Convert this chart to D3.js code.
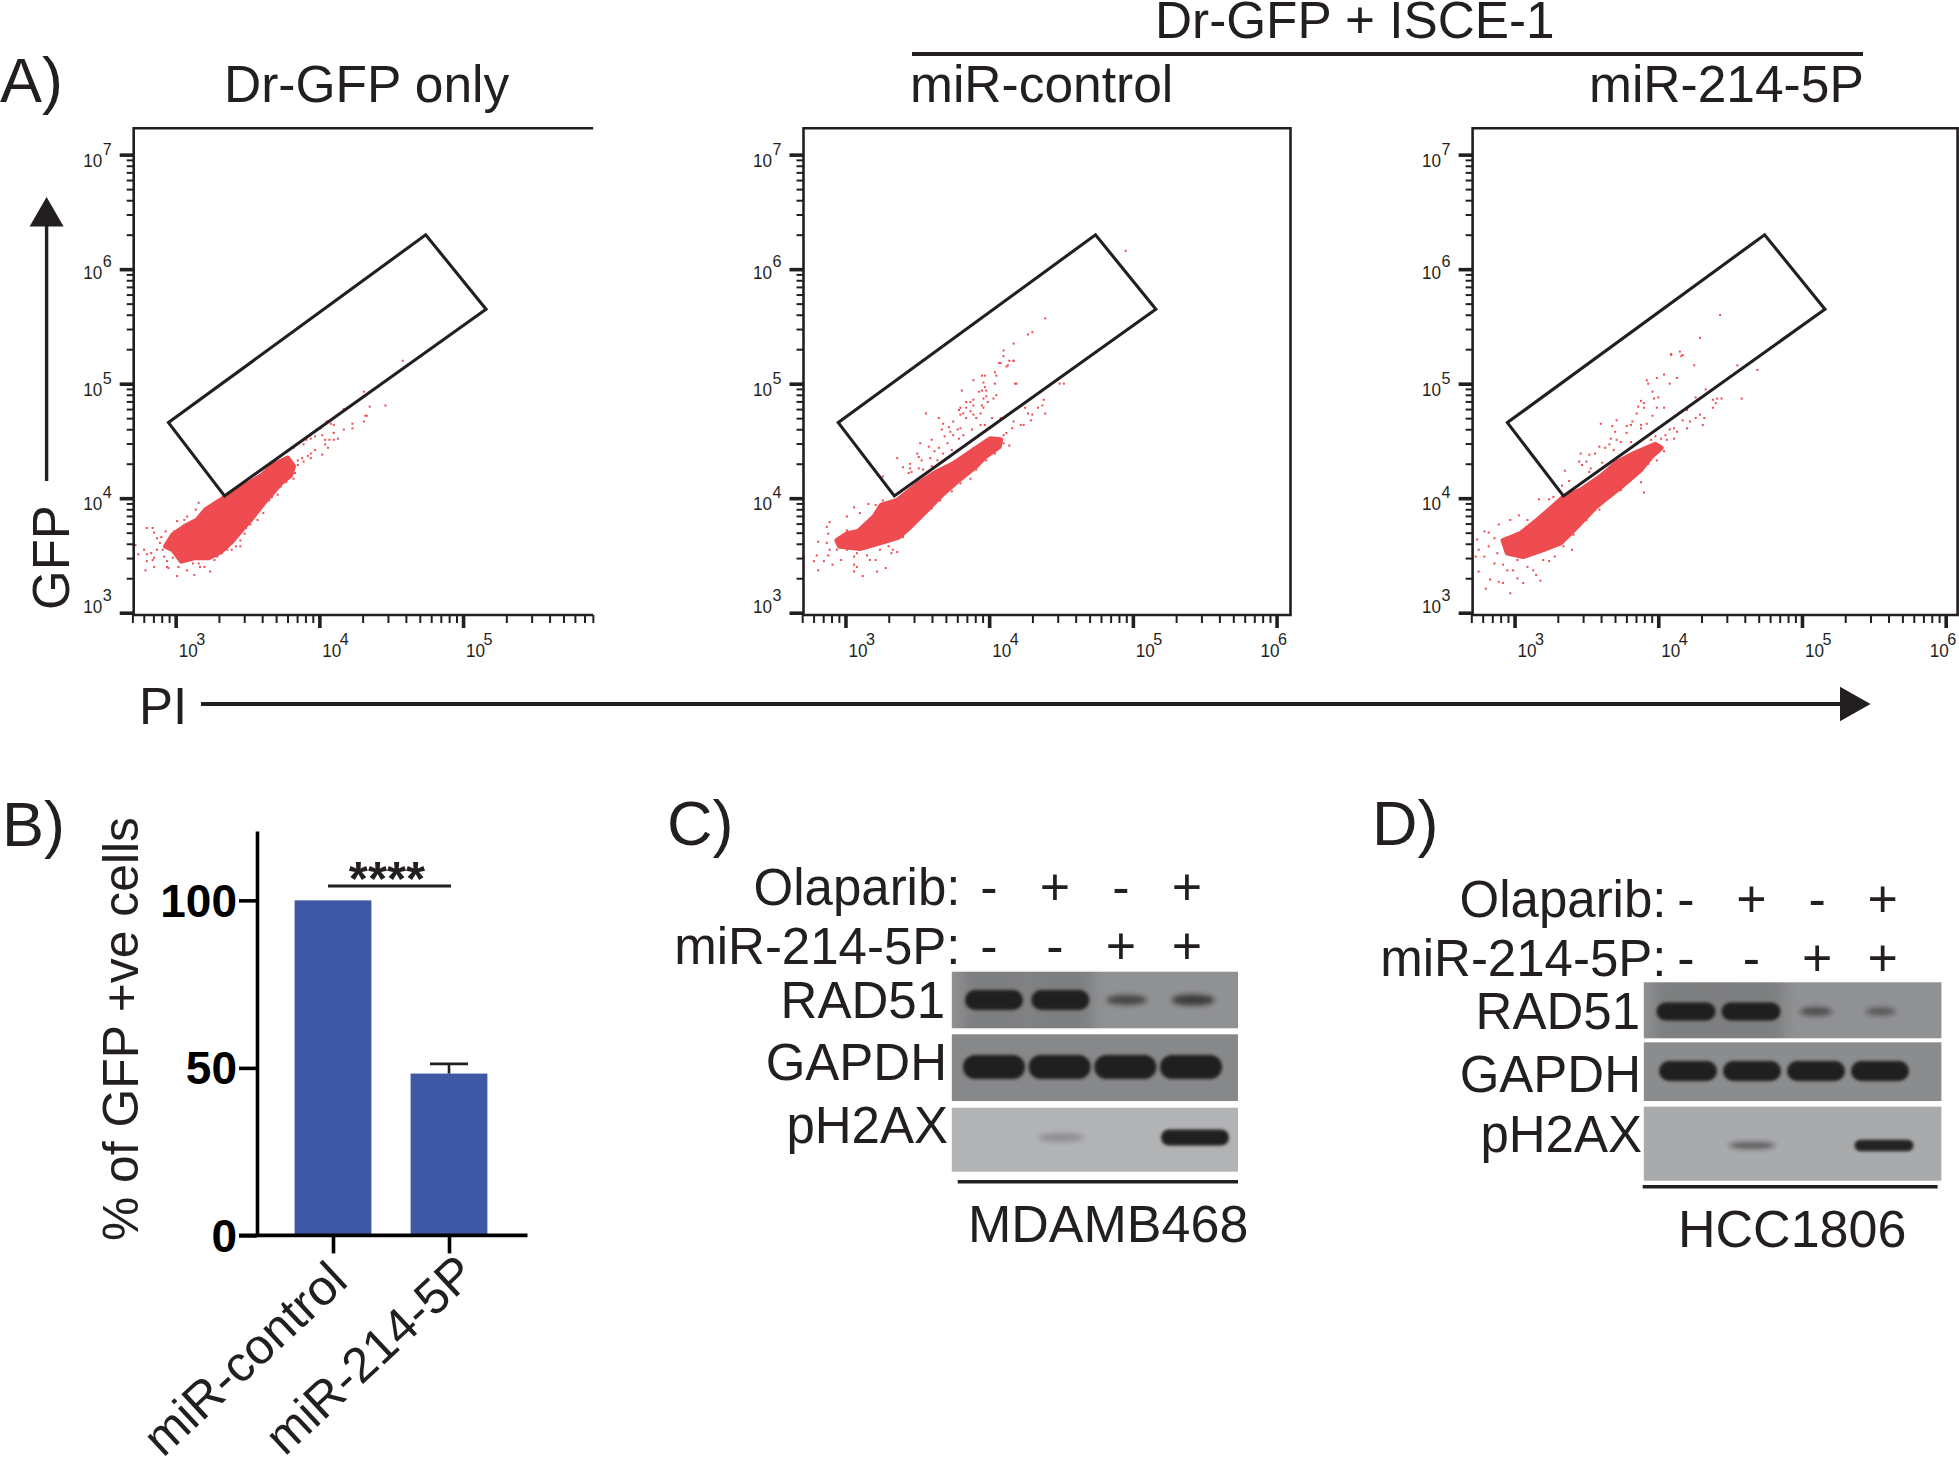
<!DOCTYPE html>
<html><head><meta charset="utf-8">
<script src="https://cdn.jsdelivr.net/npm/d3@7/dist/d3.min.js"></script>
<style>
html,body{margin:0;padding:0;background:#fff}
svg{display:block}
text{font-family:"Liberation Sans",Arial,sans-serif;fill:#231f20}
</style></head><body>
<svg id="c" width="1959" height="1472"></svg>
<script>
// ---------- DATA ----------
// Flow panels: values are log10(PI), log10(GFP)
const gateCorners = [[2.95,4.66],[4.74,6.30],[5.16,5.65],[3.34,4.02]];
const denseDrOnly = [[2.93,3.58],[2.98,3.68],[3.06,3.75],[3.15,3.81],[3.21,3.90],[3.31,3.98],[3.41,4.07],[3.51,4.13],[3.60,4.20],[3.68,4.29],[3.78,4.35],[3.82,4.28],[3.80,4.20],[3.73,4.13],[3.67,4.04],[3.62,3.97],[3.52,3.81],[3.45,3.71],[3.39,3.62],[3.31,3.53],[3.23,3.48],[3.13,3.48],[3.04,3.45],[2.98,3.55]];
const sparseDrOnly = [[4.58,5.20],[4.31,4.93],[4.20,4.79],[4.17,4.78],[4.35,4.80],[4.46,4.81],[4.32,4.72],[4.33,4.72],[4.31,4.67],[4.23,4.65],[4.23,4.61],[4.17,4.60],[4.10,4.64],[4.08,4.65],[4.05,4.67],[4.01,4.61],[3.98,4.60],[4.10,4.57],[4.07,4.51],[4.13,4.52],[4.10,4.51],[4.04,4.51],[4.02,4.55],[3.97,4.54],[3.94,4.52],[3.91,4.51],[3.89,4.47],[3.82,4.44],[4.04,4.47],[4.06,4.44],[4.02,4.38],[3.97,4.42],[3.94,4.39],[3.92,4.37],[3.88,4.35],[3.85,4.33],[3.94,4.35],[3.89,4.32],[3.85,4.29],[3.83,4.22],[3.82,4.17],[3.77,4.14],[3.73,4.10],[3.71,4.03],[3.67,4.01],[3.65,3.98],[3.61,3.87],[3.57,3.81],[3.52,3.77],[3.49,3.74],[3.48,3.69],[3.45,3.63],[3.45,3.58],[3.42,3.58],[3.39,3.55],[3.36,3.55],[3.32,3.52],[3.29,3.49],[3.27,3.46],[3.24,3.36],[3.20,3.40],[3.17,3.40],[3.16,3.43],[3.13,3.33],[3.01,3.32],[2.95,3.39],[2.94,3.40],[2.85,3.40],[2.79,3.37],[2.80,3.45],[2.84,3.46],[2.85,3.48],[2.83,3.52],[2.80,3.51],[2.78,3.55],[2.74,3.51],[2.72,3.59],[2.80,3.74],[2.84,3.74],[2.85,3.70],[2.90,3.66],[2.93,3.71],[2.87,3.65],[2.89,3.61],[2.91,3.55],[2.87,3.55],[2.92,3.49],[2.94,3.45],[2.98,3.48],[3.02,3.40],[3.08,3.37],[3.12,3.43],[3.09,3.46],[3.01,3.80],[3.06,3.81],[3.08,3.84],[3.14,3.90],[3.16,3.96],[3.19,3.85],[3.27,3.96],[3.09,3.72],[2.99,3.71],[3.02,3.72]];
const denseControl = [[2.94,3.63],[3.01,3.69],[3.09,3.71],[3.20,3.84],[3.25,3.94],[3.36,3.98],[3.51,4.13],[3.62,4.22],[3.75,4.30],[3.89,4.42],[4.01,4.52],[4.08,4.51],[4.07,4.45],[3.97,4.36],[3.91,4.28],[3.80,4.17],[3.68,4.04],[3.57,3.90],[3.45,3.75],[3.37,3.66],[3.24,3.61],[3.10,3.56],[2.96,3.58]];
const sparseControl = [[4.95,6.16],[4.39,5.57],[4.27,5.43],[4.30,5.45],[4.17,5.35],[4.07,5.18],[4.13,5.16],[4.17,5.20],[4.18,5.00],[4.10,5.29],[4.10,5.24],[4.08,5.18],[4.12,5.15],[4.14,5.20],[4.17,5.20],[3.97,5.07],[3.95,5.07],[3.89,5.03],[4.04,5.10],[4.05,5.07],[3.96,5.01],[4.04,5.00],[4.19,5.00],[3.97,4.97],[3.98,4.94],[3.95,4.94],[3.93,4.93],[3.81,4.94],[4.05,4.90],[4.03,4.87],[3.98,4.89],[3.96,4.87],[3.89,4.86],[3.87,4.84],[3.84,4.84],[3.80,4.79],[3.79,4.77],[3.84,4.79],[3.89,4.81],[3.95,4.81],[3.99,4.84],[3.96,4.79],[3.87,4.76],[3.82,4.74],[3.80,4.73],[3.84,4.70],[3.89,4.73],[3.94,4.74],[3.91,4.70],[3.97,4.64],[3.94,4.64],[3.88,4.60],[3.82,4.55],[3.80,4.61],[3.78,4.60],[3.75,4.67],[3.68,4.65],[3.65,4.70],[3.56,4.74],[3.67,4.60],[3.72,4.62],[3.73,4.58],[3.69,4.54],[3.75,4.55],[3.79,4.52],[3.60,4.51],[3.52,4.48],[3.71,4.48],[3.65,4.44],[3.62,4.41],[3.68,4.39],[3.74,4.42],[3.58,4.45],[3.50,4.39],[3.51,4.36],[3.53,4.33],[3.36,4.35],[3.45,4.30],[3.45,4.26],[3.40,4.27],[3.51,4.26],[3.54,4.25],[3.44,4.22],[3.46,4.23],[3.59,4.35],[3.64,4.33],[3.60,4.28],[3.26,4.19],[4.08,4.70],[4.02,4.70],[4.25,4.79],[4.38,4.86],[4.37,4.81],[4.34,4.79],[4.39,4.74],[4.30,4.73],[4.29,4.68],[4.27,4.74],[4.52,5.00],[4.49,5.00],[4.24,4.64],[4.22,4.64],[4.17,4.67],[4.16,4.61],[4.12,4.57],[4.10,4.55],[4.14,4.46],[4.10,4.48],[4.04,4.39],[3.98,4.33],[3.91,4.25],[3.87,4.17],[3.80,4.13],[3.74,4.06],[3.66,3.98],[3.60,3.91],[3.54,3.87],[3.49,3.80],[3.45,3.77],[3.40,3.66],[3.36,3.53],[3.33,3.55],[3.28,3.39],[3.22,3.36],[3.21,3.46],[3.17,3.46],[3.12,3.32],[3.08,3.40],[3.06,3.36],[3.06,3.42],[2.97,3.46],[2.91,3.42],[2.85,3.45],[2.81,3.37],[2.78,3.45],[2.80,3.50],[2.71,3.49],[2.81,3.62],[2.87,3.61],[2.89,3.55],[2.88,3.50],[2.88,3.69],[2.89,3.79],[2.87,3.75],[3.01,3.84],[3.06,3.92],[3.10,3.87],[3.16,3.95],[3.21,3.94],[3.26,3.98],[3.01,3.72],[2.96,3.66],[2.94,3.55],[3.01,3.55],[3.08,3.52],[3.15,3.50],[3.24,3.55],[3.30,3.58],[3.32,3.52],[3.06,3.49]];
const dense214 = [[2.92,3.63],[3.04,3.69],[3.16,3.81],[3.27,3.93],[3.34,4.01],[3.46,4.07],[3.60,4.19],[3.71,4.31],[3.83,4.39],[3.98,4.47],[4.02,4.44],[3.95,4.36],[3.88,4.25],[3.74,4.10],[3.57,3.93],[3.41,3.72],[3.32,3.61],[3.20,3.55],[3.06,3.49],[2.95,3.52]];
const sparse214 = [[4.43,5.60],[4.29,5.40],[4.09,5.26],[4.09,5.25],[4.15,5.28],[4.17,5.25],[4.16,5.24],[4.25,5.16],[4.55,5.16],[4.69,5.12],[4.04,5.08],[3.99,5.05],[3.92,5.03],[3.93,5.00],[4.13,5.05],[4.08,5.00],[3.96,4.93],[4.33,4.95],[4.26,4.88],[4.00,4.88],[3.97,4.87],[3.88,4.85],[3.90,4.83],[3.86,4.80],[3.90,4.79],[3.99,4.79],[4.04,4.79],[4.38,4.86],[4.41,4.87],[4.44,4.87],[4.40,4.83],[4.38,4.79],[4.58,4.87],[4.20,4.77],[3.85,4.74],[3.96,4.72],[3.71,4.68],[3.60,4.65],[3.82,4.67],[3.88,4.64],[3.88,4.61],[3.92,4.65],[3.78,4.63],[3.81,4.64],[3.68,4.63],[3.70,4.58],[3.78,4.57],[3.67,4.52],[3.71,4.51],[3.74,4.49],[3.81,4.49],[3.66,4.47],[3.59,4.45],[3.63,4.44],[3.56,4.39],[3.69,4.42],[3.46,4.39],[3.52,4.38],[3.61,4.31],[3.45,4.32],[3.47,4.29],[3.50,4.32],[3.52,4.23],[3.35,4.24],[3.38,4.15],[3.33,4.11],[3.53,4.26],[4.29,4.73],[4.32,4.70],[4.26,4.70],[4.31,4.64],[4.22,4.67],[4.20,4.61],[4.17,4.68],[4.13,4.58],[4.11,4.61],[4.08,4.60],[4.05,4.55],[4.11,4.52],[4.06,4.51],[4.02,4.52],[3.98,4.54],[3.95,4.51],[4.04,4.41],[3.99,4.33],[3.93,4.30],[3.88,4.14],[3.90,4.05],[3.81,4.16],[3.74,4.07],[3.64,4.01],[3.59,3.90],[3.50,3.81],[3.41,3.68],[3.40,3.55],[3.34,3.58],[3.28,3.49],[3.20,3.46],[3.24,3.45],[3.18,3.28],[3.15,3.33],[3.06,3.26],[3.02,3.30],[2.92,3.26],[2.89,3.27],[2.83,3.29],[2.80,3.21],[2.75,3.36],[2.73,3.49],[2.74,3.64],[2.79,3.71],[2.82,3.70],[2.89,3.77],[2.97,3.81],[3.03,3.85],[3.09,3.81],[3.17,3.99],[3.24,3.99],[3.27,4.01],[2.99,3.37],[3.09,3.40],[3.13,3.37],[2.95,3.37],[2.86,3.43],[2.79,3.49],[2.82,3.58],[2.88,3.52],[2.75,3.55],[2.86,3.65],[2.92,3.42],[3.02,3.46],[2.97,3.17]];
const flowMajor = [1e3,1e4,1e5,1e6];
const flowMajorY = [1e3,1e4,1e5,1e6,1e7];

// Bar panel
const barCategories = ["miR-control","miR-214-5P"];
const barValues = [100,48.3];
const barErrors = [0,2.9];
const barTicks = [0,50,100];

// Western blots: band strength in each lane (0 = no band)
const laneOlaparib = ["-","+","-","+"];
const laneMir = ["-","-","+","+"];
const blotProteins = ["RAD51","GAPDH","pH2AX"];
const rad51C = [1,1,.42,.48], gapdhC = [1,1,1,1], ph2axC = [0,.16,0,1];
const rad51D = [1,1,.38,.32], gapdhD = [1,1,1,1], ph2axD = [0,.36,0,.95];

// ---------- DRAW ----------
const svg = d3.select("#c");
const ink = "#231f20";
const defs = svg.append("defs");
const mk=(id,sd)=>defs.append("filter").attr("id",id).attr("x","-40%").attr("y","-120%").attr("width","180%").attr("height","340%")
  .append("feGaussianBlur").attr("stdDeviation",sd);
mk("b",1.4); mk("f",2.6); mk("h",7);

function txt(t,x,y,size,opt={}){
  return svg.append("text").attr("x",x).attr("y",y).attr("font-size",size)
    .attr("text-anchor",opt.anchor||"start").attr("font-weight",opt.weight||"normal").text(t);
}
function line(x1,y1,x2,y2,w){
  svg.append("line").attr("x1",x1).attr("y1",y1).attr("x2",x2).attr("y2",y2)
    .attr("stroke",ink).attr("stroke-width",w);
}

// Titles
txt("A)",0,102,63);
txt("Dr-GFP only",224,102,51.5);
txt("Dr-GFP + ISCE-1",1155,38,51.3);
line(912,54,1863,54,4);
txt("miR-control",910,102,51.5);
txt("miR-214-5P",1589,102,51.5);

// Flow panels
const flowX = d3.scaleLog().domain([Math.pow(10,2.708),Math.pow(10,6.083)]).range([0,485]);
const flowY = d3.scaleLog().domain([Math.pow(10,2.98),Math.pow(10,7.23)]).range([615,128.3]);
const minors = (lo,hi)=>{const o=[];for(let d=lo;d<hi;d++)for(let k=2;k<10;k++)o.push(k*Math.pow(10,d));return o;};

function flowPanel(left,width,dense,sparse,closed){
  const g = svg.append("g").attr("transform",`translate(${left},0)`);
  const px = v=>flowX(Math.pow(10,v)), py = v=>flowY(Math.pow(10,v));
  g.append("path").datum(dense)
    .attr("d",d3.line().x(d=>px(d[0])).y(d=>py(d[1])).curve(d3.curveLinearClosed))
    .attr("fill","#ee4c50").attr("stroke","#ee4c50").attr("stroke-width",5).attr("stroke-linejoin","round");
  g.selectAll("rect.ev").data(sparse).join("rect").attr("class","ev")
    .attr("x",d=>px(d[0])-1).attr("y",d=>py(d[1])-1).attr("width",2).attr("height",2)
    .attr("fill","#ee4c50");
  g.append("path").datum(gateCorners)
    .attr("d",d3.line().x(d=>px(d[0])).y(d=>py(d[1])).curve(d3.curveLinearClosed))
    .attr("fill","none").attr("stroke",ink).attr("stroke-width",3.1).attr("stroke-linejoin","miter");
  const inRange = v=>flowX(v)<=width;
  const bottom = (vals,size,sw)=>{
    const a=g.append("g").attr("transform","translate(0,615)")
      .call(d3.axisBottom(flowX).tickValues(vals.filter(inRange)).tickSize(size).tickFormat("").tickSizeOuter(0));
    a.select(".domain").remove();
    a.selectAll("line").attr("stroke",ink).attr("stroke-width",sw);
  };
  bottom(minors(2,6).filter(v=>v>=500),8,2);
  bottom(flowMajor,13,3.6);
  const leftAx = (vals,size,sw)=>{
    const a=g.append("g").call(d3.axisLeft(flowY).tickValues(vals).tickSize(size).tickFormat("").tickSizeOuter(0));
    a.select(".domain").remove();
    a.selectAll("line").attr("stroke",ink).attr("stroke-width",sw);
  };
  leftAx(minors(3,7),7,2);
  leftAx(flowMajorY,14,3.6);
  g.append("path").attr("fill","none").attr("stroke",ink).attr("stroke-width",2.6)
    .attr("d",closed?`M0,128.3H${width}V615H0Z`:`M${width},128.3H0V615H${width}`);
  const lab=(x,y,supX,supY,e)=>{
    g.append("text").attr("transform",`translate(${x},${y}) scale(.9,1)`).attr("font-size",19).text("10");
    g.append("text").attr("transform",`translate(${supX},${supY}) scale(.95,1)`).attr("font-size",17).text(e);
  };
  flowMajor.filter(inRange).forEach((v,i)=>{
    const e=3+i, x=flowX(v), dx=(e===6)?-16:3;
    lab(x+dx,656.7,x+dx+17.5,645,e);
  });
  flowMajorY.forEach((v,i)=>{
    const e=3+i, y=flowY(v), dy=(e===3)?0:(e===6?10:12);
    lab(-50.5,y+dy,-31,y+dy-12,e);
  });
}
flowPanel(133.7,459.5,denseDrOnly,sparseDrOnly,false);
flowPanel(803.5,487,denseControl,sparseControl,true);
flowPanel(1472.6,485,dense214,sparse214,true);

// GFP / PI arrows
line(46.6,481,46.6,222,3.4);
svg.append("path").attr("d","M46.6,197L29.6,226.5H63.6Z").attr("fill",ink);
svg.append("text").attr("transform","translate(69,610) rotate(-90)").attr("font-size",51).text("GFP");
txt("PI",139,724,51);
line(201,704,1845,704,4);
svg.append("path").attr("d","M1870.6,704L1840,686.7V721.3Z").attr("fill",ink);

// Panel B
txt("B)",2,846,63);
const barY = d3.scaleLinear().domain([0,120.7]).range([1235.4,831]);
const barX = d3.scalePoint().domain(barCategories).range([333,449]);
const barW = 76.8;
svg.selectAll("rect.bar").data(barCategories).join("rect").attr("class","bar")
  .attr("x",d=>barX(d)-barW/2).attr("width",barW)
  .attr("y",(d,i)=>barY(barValues[i])).attr("height",(d,i)=>barY(0)-barY(barValues[i]))
  .attr("fill","#3f58a6");
barCategories.forEach((c,i)=>{
  if(!barErrors[i])return;
  const x=barX(c), top=barY(barValues[i]+barErrors[i]);
  line(x,barY(barValues[i]),x,top,2.6);
  line(x-19,top,x+19,top,2.6);
});
const yAx = svg.append("g").attr("transform","translate(257,0)")
  .call(d3.axisLeft(barY).tickValues(barTicks).tickSize(18).tickFormat("").tickSizeOuter(0));
yAx.selectAll("line").attr("stroke","#000").attr("stroke-width",3.6);
yAx.select(".domain").attr("stroke","#000").attr("stroke-width",3.6);
barTicks.forEach(v=>{
  txt(v,237,barY(v)+16.5,46,{anchor:"end",weight:"bold"}).style("fill","#000");
});
const xAx = svg.append("g").attr("transform",`translate(0,${barY(0)})`)
  .call(d3.axisBottom(barX).tickSize(18).tickFormat("").tickSizeOuter(0));
xAx.selectAll("line").attr("stroke","#000").attr("stroke-width",3.6);
xAx.select(".domain").attr("d","M239,0H527.5").attr("stroke","#000").attr("stroke-width",3.6);
svg.append("text").attr("transform","translate(137.5,1241) rotate(-90)").attr("font-size",49.8).text("% of GFP +ve cells");
const barLabelShift = [17,29];
const barLabelY = [1284,1277];
barCategories.forEach((c,i)=>{
  svg.append("text").attr("transform",`translate(${barX(c)+barLabelShift[i]},${barLabelY[i]}) rotate(-43)`)
    .attr("text-anchor","end").attr("font-size",i?49.5:50).text(c);
});
line(328,886,451,886,2.8);
txt("****",387,895,49,{anchor:"middle",weight:"bold"});

// Panels C, D
function blotPanel(cfg){
  txt(cfg.letter,cfg.letterX,845,63);
  const signX = d3.scalePoint().domain([0,1,2,3]).range(cfg.signRange);
  txt("Olaparib:",cfg.labelRight,cfg.rowY[0],51,{anchor:"end"});
  txt("miR-214-5P:",cfg.labelRight,cfg.rowY[1],51,{anchor:"end"});
  [laneOlaparib,laneMir].forEach((row,r)=>row.forEach((s,i)=>{
    txt(s,signX(i),cfg.rowY[r],52,{anchor:"middle",weight:"normal"});
  }));
  cfg.rows.forEach((row,r)=>{
    const bandX = d3.scalePoint().domain([0,1,2,3]).range(row.lanes);
    svg.append("rect").attr("x",cfg.x0).attr("y",row.top).attr("width",cfg.x1-cfg.x0).attr("height",row.bottom-row.top)
      .attr("fill",row.bg);
    const width = d3.scaleLinear().domain([0,1]).range(row.w);
    const height = d3.scaleLinear().domain([0,1]).range(row.h);
    const alpha = d3.scaleLinear().domain([0,.5,1]).range([0,.72,.97]);
    const vals = row.values.map((v,i)=>({v,i})).filter(d=>d.v>0);
    if(row.halo){
      svg.append("clipPath").attr("id",`clip${cfg.letter[0]}${r}`).append("rect")
        .attr("x",cfg.x0).attr("y",row.top).attr("width",cfg.x1-cfg.x0).attr("height",row.bottom-row.top);
      svg.append("g").attr("clip-path",`url(#clip${cfg.letter[0]}${r})`)
        .selectAll("rect").data(vals.filter(d=>d.v>=.9)).join("rect")
        .attr("x",d=>bandX(d.i)-width(d.v)/2-3).attr("y",row.top-10)
        .attr("width",d=>width(d.v)+6).attr("height",row.bottom-row.top+20)
        .attr("fill","#000").attr("opacity",.12).attr("filter","url(#h)");
    }
    svg.append("g").selectAll("ellipse").data(vals.filter(d=>d.v<.7)).join("ellipse")
      .attr("cx",d=>bandX(d.i)).attr("cy",row.y).attr("rx",d=>width(d.v)/2).attr("ry",d=>height(d.v)/2)
      .attr("fill","#141314").attr("opacity",d=>alpha(d.v)).attr("filter","url(#f)");
    svg.append("g").selectAll("rect").data(vals.filter(d=>d.v>=.7)).join("rect")
      .attr("x",d=>bandX(d.i)-width(d.v)/2).attr("width",d=>width(d.v))
      .attr("y",d=>row.y-height(d.v)/2).attr("height",d=>height(d.v))
      .attr("rx",d=>height(d.v)/2).attr("ry",d=>height(d.v)/2)
      .attr("fill","#1b1a1b").attr("opacity",d=>alpha(d.v)).attr("filter","url(#b)");
    txt(blotProteins[r],row.labelRight,row.labelY,51,{anchor:"end"});
  });
  line(cfg.lineX[0],cfg.lineY,cfg.lineX[1],cfg.lineY,3.6);
  txt(cfg.cell,cfg.cellX,cfg.cellY,52);
}
blotPanel({letter:"C)",letterX:667,labelRight:960.5,rowY:[905,964],
  signRange:[989,1187],x0:951.8,x1:1238,
  rows:[
    {values:rad51C,lanes:[994,1193],top:971.7,bottom:1028.3,bg:"#909193",y:1000,w:[28,58],h:[3,20],labelRight:945,labelY:1017.7,halo:true},
    {values:gapdhC,lanes:[994,1191],top:1034.3,bottom:1101,bg:"#87888a",y:1067,w:[40,62],h:[6,24],labelRight:947,labelY:1080},
    {values:ph2axC,lanes:[994,1195],top:1107.7,bottom:1171.7,bg:"#b2b3b5",y:1137.5,w:[42,68],h:[7,16],labelRight:948,labelY:1142.7}
  ],
  lineX:[957.7,1238],lineY:1181.7,cell:"MDAMB468",cellX:968,cellY:1241.7});
blotPanel({letter:"D)",letterX:1372,labelRight:1666.5,rowY:[916.7,976],
  signRange:[1686,1882.6],x0:1643.8,x1:1941.4,
  rows:[
    {values:rad51D,lanes:[1686,1881],top:982.3,bottom:1038.3,bg:"#909193",y:1011.5,w:[16,59],h:[3,18],labelRight:1640,labelY:1029,halo:true},
    {values:gapdhD,lanes:[1688,1880],top:1042.3,bottom:1101,bg:"#8b8c8e",y:1071,w:[40,58],h:[6,20],labelRight:1641,labelY:1091.7},
    {values:ph2axD,lanes:[1686,1884],top:1106.7,bottom:1180.7,bg:"#a9aaac",y:1145.5,w:[40,60],h:[4,12],labelRight:1642,labelY:1151.7}
  ],
  lineX:[1642.7,1937.6],lineY:1186.7,cell:"HCC1806",cellX:1678,cellY:1247});
</script>
</body></html>
